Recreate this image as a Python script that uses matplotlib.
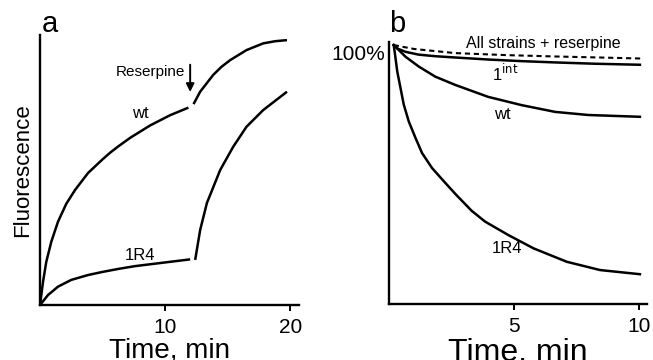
import numpy as np
import matplotlib
matplotlib.use('Agg')
import matplotlib.pyplot as plt

plt.rcParams['font.family'] = ['Liberation Sans', 'DejaVu Sans']

#### PANEL A: fluorescence uptake, reserpine added at ~12 min ####
t_wt_1 = [0, 0.24, 0.5, 0.9, 1.44, 2.1, 2.8, 3.84, 4.94, 5.6, 6.24, 7.2, 8.8, 10.4, 11.86]
f_wt_1 = [0, 8.6, 16.0, 23.4, 30.9, 37.5, 42.6, 48.9, 53.7, 56.4, 58.7, 61.9, 66.5, 70.3, 73.1]
t_wt_2 = [12.27, 12.8, 13.84, 14.5, 15.2, 16.5, 17.84, 18.8, 19.74]
f_wt_2 = [74.4, 79.0, 85.2, 88.2, 90.7, 94.4, 96.9, 97.7, 98.1]

t_r4_1 = [0, 0.64, 1.44, 2.5, 3.84, 4.94, 6.3, 7.6, 10.24, 12.0]
f_r4_1 = [0, 3.7, 6.8, 9.3, 11.1, 12.2, 13.4, 14.4, 15.9, 16.9]
t_r4_2 = [12.4, 12.8, 13.34, 14.4, 15.44, 16.5, 17.84, 19.74]
f_r4_2 = [16.7, 27.8, 37.8, 50.0, 58.6, 66.0, 72.2, 79.0]

#### PANEL B: efflux, % of initial ####
tb_res = [0.19, 1.0, 2.65, 4.77, 6.63, 8.43, 10.1]
pb_res = [100, 98.5, 96.9, 96.1, 95.6, 95.2, 94.8]

tb_int = [0.19, 0.35, 0.66, 1.19, 1.85, 2.65, 4.0, 5.3, 6.63, 8.2, 10.02]
pb_int = [100, 98.6, 97.4, 96.3, 95.7, 95.2, 94.4, 93.8, 93.3, 92.8, 92.4]

tb_wt = [0.19, 0.4, 0.66, 1.19, 1.85, 2.65, 3.96, 5.3, 6.63, 7.95, 10.02]
pb_wt = [100, 98.0, 95.5, 91.7, 87.8, 84.6, 80.0, 76.8, 74.2, 73.0, 72.3]

tb_r4 = [0.19, 0.26, 0.33, 0.46, 0.59, 0.79, 1.06, 1.32, 1.72, 2.18, 2.65,
         3.3, 3.84, 4.77, 5.77, 7.1, 8.43, 10.02]
pb_r4 = [100, 95.0, 89.8, 83.4, 77.0, 70.5, 64.1, 58.3, 52.5, 47.5, 42.5,
         36.0, 31.8, 26.6, 21.5, 16.3, 13.1, 11.5]

fig = plt.figure(figsize=(6.53, 3.6), dpi=100)
axa = fig.add_axes([0.0613, 0.1528, 0.3966, 0.75])
axb = fig.add_axes([0.5957, 0.1556, 0.395, 0.7278])

lw = 1.8
for t, f in [(t_wt_1, f_wt_1), (t_wt_2, f_wt_2), (t_r4_1, f_r4_1), (t_r4_2, f_r4_2)]:
    axa.plot(t, f, '-', color='black', lw=lw, solid_capstyle='butt', solid_joinstyle='round')

axa.set_xlim(0, 20.7)
axa.set_ylim(0, 100)
axa.set_xticks([10, 20])
axa.set_yticks([])
axa.set_ylabel('Fluorescence', fontsize=16, labelpad=5)
axa.set_xlabel('Time, min', fontsize=20, labelpad=0)
axa.text(11.6, 86.3, 'Reserpine', ha='right', va='center', fontsize=11)
axa.annotate('', xy=(12.0, 78.9), xytext=(12.0, 89),
             arrowprops=dict(arrowstyle='-|>', color='black', lw=1.4,
                             mutation_scale=12, shrinkA=0, shrinkB=0))
axa.text(8.0, 71.1, 'wt', ha='center', va='center', fontsize=12)
axa.text(8.0, 18.5, '1R4', ha='center', va='center', fontsize=12)
axa.text(0.16, 101.2, 'a', ha='left', va='baseline', fontsize=21, clip_on=False)

axb.plot(tb_res, pb_res, '--', color='black', lw=1.5, dashes=(2.5, 1.8))
axb.plot(tb_int, pb_int, '-', color='black', lw=lw)
axb.plot(tb_wt, pb_wt, '-', color='black', lw=lw)
axb.plot(tb_r4, pb_r4, '-', color='black', lw=lw)

axb.set_xlim(0, 10.3)
axb.set_ylim(0, 101.2)
axb.set_xticks([5, 10])
axb.set_yticks([100])
axb.set_yticklabels(['100%'])
axb.tick_params(axis='y', length=0, pad=3, labelsize=15)
for lbl in axb.get_yticklabels():
    lbl.set_va('top')
axb.set_xlabel('Time, min', fontsize=23, labelpad=1.5)
axb.text(6.17, 100.8, 'All strains + reserpine', ha='center', va='center', fontsize=11.5)
axb.text(4.13, 89.2, r'1$^{\mathrm{int}}$', ha='left', va='center', fontsize=12)
axb.text(4.52, 73, 'wt', ha='center', va='center', fontsize=12)
axb.text(4.71, 21.5, '1R4', ha='center', va='center', fontsize=12)
axb.text(0.0, 105.1, 'b', ha='left', va='baseline', fontsize=21, clip_on=False)

for ax in (axa, axb):
    for s in ('top', 'right'):
        ax.spines[s].set_visible(False)
    for s in ('left', 'bottom'):
        ax.spines[s].set_linewidth(1.7)
    ax.tick_params(axis='x', direction='out', length=4.5, width=1.4, labelsize=15, pad=5)
    ax.patch.set_alpha(0)

fig.savefig('out.png', dpi=100)
